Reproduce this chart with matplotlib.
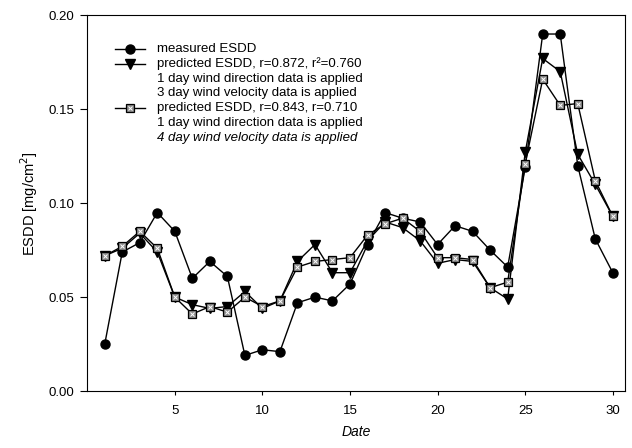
import numpy as np
import matplotlib.pyplot as plt
from matplotlib.lines import Line2D

plt.rcParams['font.family'] = ['Liberation Sans', 'DejaVu Sans']

# Daily ESDD values [mg/cm^2]
day = np.arange(1, 31)
measured = [0.025, 0.074, 0.079, 0.095, 0.085, 0.060, 0.069, 0.061, 0.019, 0.022,
            0.021, 0.047, 0.050, 0.048, 0.057, 0.078, 0.095, 0.092, 0.090, 0.078,
            0.088, 0.085, 0.075, 0.066, 0.119, 0.190, 0.190, 0.120, 0.081, 0.063]
pred_3day = [0.072, 0.076, 0.084, 0.074, 0.050, 0.046, 0.044, 0.045, 0.053, 0.044,
             0.048, 0.069, 0.078, 0.063, 0.063, 0.080, 0.090, 0.087, 0.080, 0.068,
             0.070, 0.069, 0.055, 0.049, 0.127, 0.177, 0.170, 0.126, 0.110, 0.093]
pred_4day = [0.072, 0.077, 0.085, 0.076, 0.050, 0.041, 0.045, 0.042, 0.050, 0.045,
             0.048, 0.066, 0.069, 0.070, 0.071, 0.083, 0.089, 0.092, 0.085, 0.071,
             0.071, 0.070, 0.055, 0.058, 0.121, 0.166, 0.152, 0.153, 0.112, 0.093]

fig = plt.figure(figsize=(6.32, 4.48), dpi=100)
ax = fig.add_axes([0.138, 0.127, 0.851, 0.839])

circ = dict(color='black', lw=1.0, marker='o', ms=6.5)
tri = dict(color='black', lw=1.0, marker='v', ms=6.5)
sq = dict(color='black', lw=1.0, marker='s', ms=5.5, mfc='#8c8c8c', mec='black', mew=0.9)
sqx = dict(ls='none', marker='x', ms=3, color='white', mew=0.7)

ax.plot(day, measured, **circ)
ax.plot(day, pred_3day, **tri)
ax.plot(day, pred_4day, **sq)
ax.plot(day, pred_4day, **sqx)

ax.set_xlim(0, 30.7)
ax.set_ylim(0, 0.2)
ax.set_xticks([5, 10, 15, 20, 25, 30])
ax.set_yticks([0.0, 0.05, 0.10, 0.15, 0.20])
ax.set_yticklabels(['0.00', '0.05', '0.10', '0.15', '0.20'])
ax.tick_params(axis='x', direction='out', length=3, width=0.8, labelsize=9.5, pad=7)
ax.tick_params(axis='y', direction='out', length=5, width=0.8, labelsize=9.5, pad=4.5)
for s in ax.spines.values():
    s.set_linewidth(0.8)

ax.set_xlabel('Date', fontsize=10, style='italic', labelpad=6)
ax.set_ylabel('ESDD [mg/cm$^2$]', fontsize=10.5, labelpad=6)

# legend drawn row by row so the marker sits on the first line of each entry
labels = ['measured ESDD',
          'predicted ESDD, r=0.872, r\u00b2=0.760',
          '1 day wind direction data is applied',
          '3 day wind velocity data is applied',
          'predicted ESDD, r=0.843, r=0.710',
          '1 day wind direction data is applied',
          '4 day wind velocity data is applied']
styles = {0: [circ], 1: [tri], 4: [sq, sqx]}
x0, x1, xt = 0.052, 0.108, 0.130
y_top, dy = 0.910, 0.0394
for i, lab in enumerate(labels):
    y = y_top - i * dy
    for st in styles.get(i, []):
        if st.get('ls') == 'none':
            ax.add_line(Line2D([(x0 + x1) / 2], [y], transform=ax.transAxes, **st))
        else:
            ax.add_line(Line2D([x0, (x0 + x1) / 2, x1], [y, y, y], markevery=[1],
                               transform=ax.transAxes, **st))
    ax.text(xt, y, lab, transform=ax.transAxes, fontsize=9.5, va='center',
            style='italic' if i == 6 else 'normal')

fig.savefig('out.png', dpi=100)
